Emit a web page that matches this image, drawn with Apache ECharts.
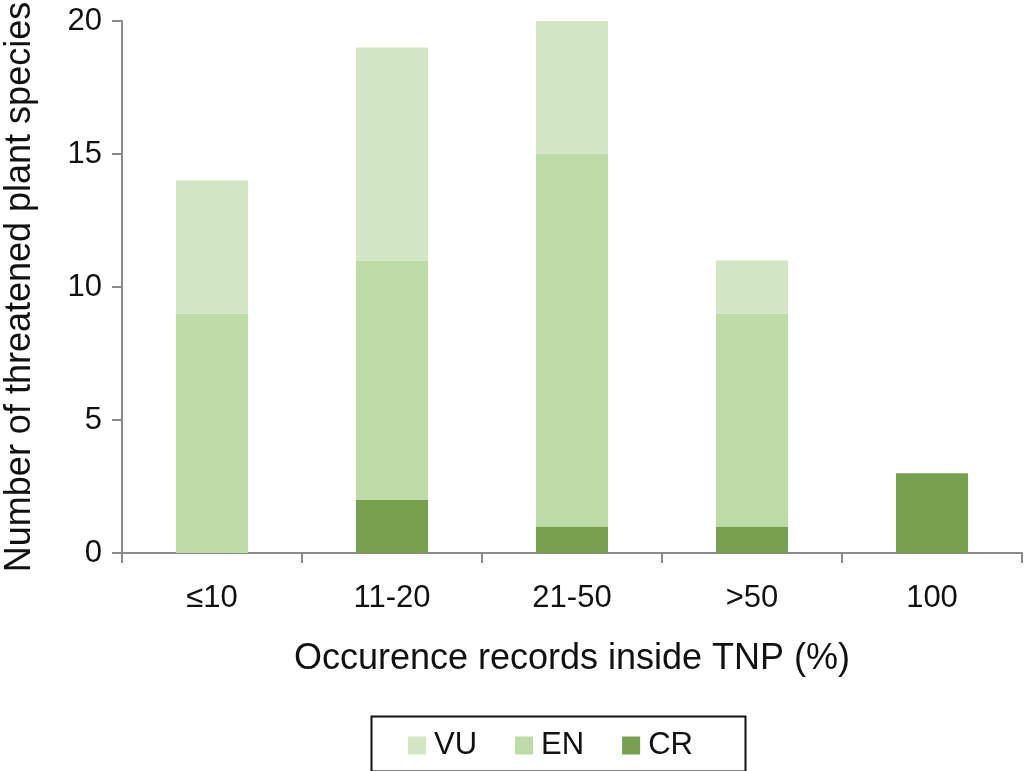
<!DOCTYPE html>
<html><head><meta charset="utf-8">
<script src="https://cdn.jsdelivr.net/npm/echarts@6/dist/echarts.min.js"></script>
<style>html,body{margin:0;padding:0;background:#fff}#c{width:1024px;height:771px}</style>
</head><body><div id="c"></div>
<script>
const categories = ['≤10', '11-20', '21-50', '>50', '100'];
const crValues = [0, 2, 1, 1, 3];
const enValues = [9, 9, 14, 8, 0];
const vuValues = [5, 8, 5, 2, 0];
const yTicks = [0, 5, 10, 15, 20];

const font = 'Liberation Sans, Arial, Helvetica, sans-serif';
const chart = echarts.init(document.getElementById('c'), null, {renderer: 'canvas'});
const bar = (name, data, color) => ({
  name, type: 'bar', stack: 'total', data, barWidth: 72,
  itemStyle: {color}, emphasis: {disabled: true}
});
chart.setOption({
  animation: false,
  textStyle: {fontFamily: font},
  grid: {left: 122, right: 2, top: 21, bottom: 218, containLabel: false, outerBoundsMode: 'none'},
  xAxis: {
    type: 'category', data: categories,
    name: 'Occurence records inside TNP (%)', nameLocation: 'middle', nameGap: 88,
    nameTextStyle: {fontSize: 36, color: '#111', fontFamily: font},
    axisLine: {lineStyle: {color: '#8a8a8a', width: 2}},
    axisTick: {show: true, length: 10, lineStyle: {color: '#8a8a8a', width: 2}},
    axisLabel: {fontSize: 31, color: '#111', margin: 30, fontFamily: font}
  },
  yAxis: {
    type: 'value', min: 0, max: 20, interval: 5,
    name: 'Number of threatened plant species', nameLocation: 'middle', nameGap: 84,
    nameTextStyle: {fontSize: 36, color: '#111', fontFamily: font},
    axisLine: {show: true, lineStyle: {color: '#8a8a8a', width: 2}},
    axisTick: {show: true, length: 10, lineStyle: {color: '#8a8a8a', width: 2}},
    axisLabel: {fontSize: 31, color: '#111', margin: 20, fontFamily: font,
      formatter: v => yTicks.includes(v) ? String(v) : ''},
    splitLine: {show: false}
  },
  legend: {
    data: ['VU', 'EN', 'CR'], left: 403, top: 725,
    itemWidth: 18, itemHeight: 18, itemGap: 38, icon: 'rect',
    textStyle: {fontSize: 31, color: '#111', fontFamily: font, padding: [0, 0, 0, 3]}
  },
  graphic: [{
    type: 'rect', left: 369, top: 714,
    shape: {width: 374, height: 55},
    style: {fill: 'none', stroke: '#111', lineWidth: 2}, silent: true
  }],
  series: [
    bar('CR', crValues, '#76a04e'),
    bar('EN', enValues, '#bcdba6'),
    bar('VU', vuValues, '#d3e6c4')
  ]
});
</script></body></html>
